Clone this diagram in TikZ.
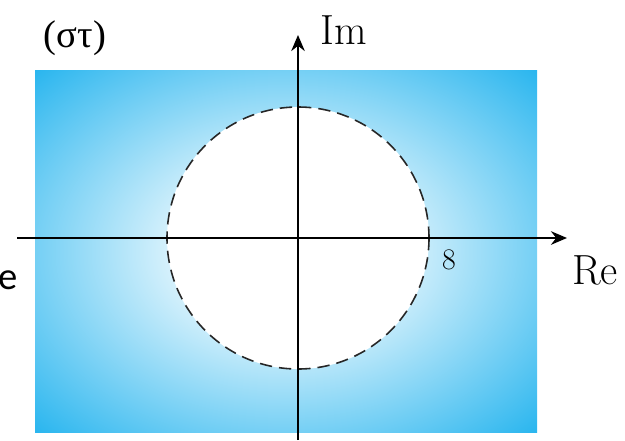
\documentclass[tikz,border=0pt]{standalone}
\usepackage{fontspec}
\newfontfamily\grkfont{Liberation Serif}
\newfontfamily\cutfont{Carlito}
\usetikzlibrary{arrows.meta,positioning}
\definecolor{skycyan}{RGB}{8,170,236}
\pgfdeclareradialshading{planefade}{\pgfpoint{0bp}{0bp}}{%
  color(0bp)=(white); color(6bp)=(white); color(40bp)=(skycyan); color(100bp)=(skycyan)}
\tikzset{
  cplaxis/.style={-{Stealth[length=0.32cm,width=0.27cm]}, line width=1.4pt, draw=black},
  cplcircle/.style={draw=black!85, line width=0.9pt, dash pattern=on 7pt off 4pt, fill=white},
  cpllabel/.style={font=\fontsize{24}{28}\selectfont, inner sep=0pt},
  cpltick/.style={font=\fontsize{17}{20}\selectfont, inner sep=0pt},
}
\begin{document}
\begin{tikzpicture}[x=0.02cm, y=-0.02cm]
  \useasboundingbox (0,0) rectangle (625,440);
  % shaded plane and the disc
  \shade[shading=planefade] (35,70) rectangle (537,432);
  \coordinate (origin) at (298,238);
  \draw[cplcircle] (origin) circle[radius=131];
  % axes
  \coordinate (hstart) at (17,238);
  \coordinate (hend) at (567,238);
  \coordinate (vstart) at (298,440);
  \coordinate (vend) at (298,35);
  \draw[cplaxis] (hstart) -- (hend);
  \draw[cplaxis] (vstart) -- (vend);
  % labels
  \node (plane) [font=\grkfont\fontsize{22}{26}\selectfont, inner sep=0pt] at (75,38) {(στ)};
  \node (imlab) [cpllabel] at (344,30) {Im};
  \node (relab) [cpllabel] at (595,270) {Re};
  \node (rad) [cpltick] at (449,260) {8};
  \node (cut) [font=\cutfont\fontsize{22}{26}\selectfont, inner sep=0pt] at (8,280) {e};
\end{tikzpicture}
\end{document}
